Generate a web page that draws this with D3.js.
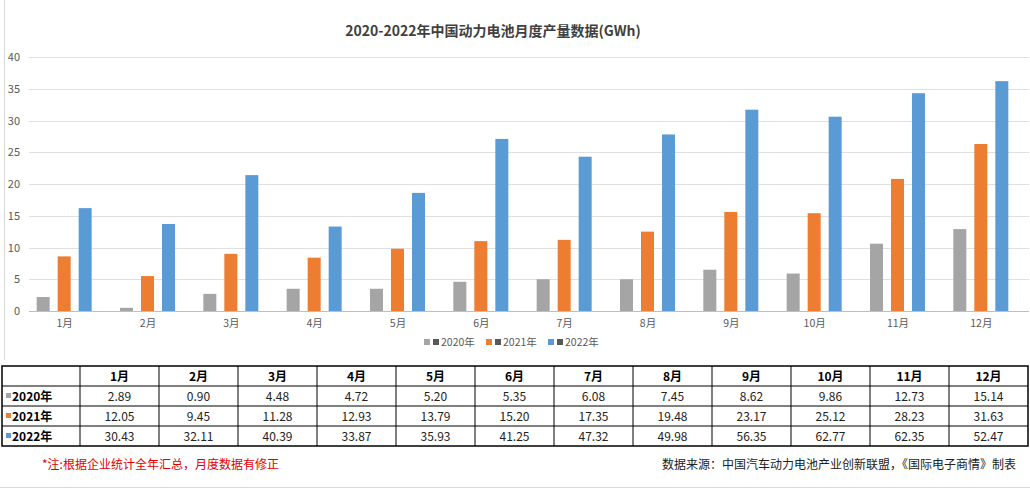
<!DOCTYPE html>
<html><head><meta charset="utf-8">
<script src="https://cdn.jsdelivr.net/npm/d3@7"></script>
<style>body{margin:0;background:#fff;font-family:"Microsoft YaHei","Noto Sans CJK SC",sans-serif}</style>
</head><body><div id="c"></div>
<script>
var months = ["1月","2月","3月","4月","5月","6月","7月","8月","9月","10月","11月","12月"];
var years = ["2020年","2021年","2022年"];
var colors = ["#a5a5a5","#ed7d31","#5b9bd5"];
// bar heights as drawn in the chart
var bars2020 = [2.2,0.5,2.7,3.5,3.5,4.6,5.0,5.0,6.5,5.9,10.6,12.9];
var bars2021 = [8.6,5.5,9.0,8.4,9.8,11.0,11.2,12.5,15.6,15.4,20.8,26.3];
var bars2022 = [16.2,13.7,21.4,13.3,18.6,27.1,24.3,27.8,31.7,30.6,34.3,36.2];
// values printed in the table
var tab2020 = ["2.89","0.90","4.48","4.72","5.20","5.35","6.08","7.45","8.62","9.86","12.73","15.14"];
var tab2021 = ["12.05","9.45","11.28","12.93","13.79","15.20","17.35","19.48","23.17","25.12","28.23","31.63"];
var tab2022 = ["30.43","32.11","40.39","33.87","35.93","41.25","47.32","49.98","56.35","62.77","62.35","52.47"];
var yTicks = [0,5,10,15,20,25,30,35,40];

var W = 1030, H = 489;
var svg = d3.select("#c").append("svg").attr("width", W).attr("height", H);

var x = d3.scaleBand().domain(months).range([29, 1029]);
var y = d3.scaleLinear().domain([0, 40]).range([311, 57]);

svg.append("line").attr("x1", 4.5).attr("x2", 4.5).attr("y1", 0).attr("y2", 360).attr("stroke", "#d9d9d9");

svg.append("text").attr("x", 493).attr("y", 36).attr("text-anchor", "middle")
  .attr("font-size", 14).attr("font-weight", "bold").attr("fill", "#404040")
  .text("2020-2022年中国动力电池月度产量数据(GWh)");

svg.append("g").selectAll("line").data(yTicks).enter().append("line")
  .attr("x1", 29).attr("x2", 1029).attr("y1", d => Math.round(y(d)) + 0.5).attr("y2", d => Math.round(y(d)) + 0.5)
  .attr("stroke", d => d === 0 ? "#bfbfbf" : "#e0e0e0");
svg.append("g").selectAll("text").data(yTicks).enter().append("text")
  .attr("x", 20).attr("y", d => y(d) + 4).attr("text-anchor", "end")
  .attr("font-size", 11).attr("fill", "#595959").text(d => d);

var series = [bars2020, bars2021, bars2022];
series.forEach(function(vals, si) {
  svg.append("g").selectAll("rect").data(vals).enter().append("rect")
    .attr("x", (d, i) => x(months[i]) + x.bandwidth() / 2 - 34 + si * 21)
    .attr("width", 13)
    .attr("y", d => y(d)).attr("height", d => y(0) - y(d))
    .attr("fill", colors[si]);
});
svg.append("g").selectAll("text").data(months).enter().append("text")
  .attr("x", d => x(d) + x.bandwidth() / 2 - 6).attr("y", 327).attr("text-anchor", "middle")
  .attr("font-size", 10.5).attr("fill", "#595959").text(d => d);

// legend
var lg = svg.append("g").attr("transform", "translate(424,346)");
years.forEach(function(yr, i) {
  var g = lg.append("g").attr("transform", "translate(" + (i * 62) + ",0)");
  g.append("rect").attr("x", 0).attr("y", -7).attr("width", 6).attr("height", 6).attr("fill", colors[i]);
  g.append("rect").attr("x", 9).attr("y", -7).attr("width", 6).attr("height", 6).attr("fill", "#595959");
  g.append("text").attr("x", 17).attr("y", 0).attr("font-size", 10.5).attr("fill", "#595959").text(yr);
});

// table
var tx0 = 2, cw = (1028 - 80) / 12, ty0 = 366, rh = 20;
var rows = [tab2020, tab2021, tab2022];
var t = svg.append("g");
t.append("rect").attr("x", tx0).attr("y", ty0).attr("width", 1026).attr("height", rh * 4)
  .attr("fill", "none").attr("stroke", "#000").attr("stroke-width", 1.5);
for (var r = 1; r < 4; r++) t.append("line").attr("x1", tx0).attr("x2", 1028)
  .attr("y1", ty0 + r * rh).attr("y2", ty0 + r * rh).attr("stroke", "#000");
t.selectAll("line.v").data(months).enter().append("line")
  .attr("x1", (d, i) => 80 + i * cw).attr("x2", (d, i) => 80 + i * cw)
  .attr("y1", ty0).attr("y2", ty0 + rh * 4).attr("stroke", "#000");
t.selectAll("text.h").data(months).enter().append("text")
  .attr("x", (d, i) => 80 + (i + 0.5) * cw).attr("y", ty0 + 15).attr("text-anchor", "middle")
  .attr("font-size", 12).attr("font-weight", "bold").text(d => d);
rows.forEach(function(vals, ri) {
  var yy = ty0 + (ri + 1) * rh + 15;
  t.append("rect").attr("x", 6).attr("y", yy - 8).attr("width", 5).attr("height", 5).attr("fill", colors[ri]);
  t.append("text").attr("x", 12).attr("y", yy).attr("font-size", 12).attr("font-weight", "bold").text(years[ri]);
  t.selectAll(null).data(vals).enter().append("text")
    .attr("x", (d, i) => 80 + (i + 0.5) * cw).attr("y", yy).attr("text-anchor", "middle")
    .attr("font-size", 12).attr("fill", "#222").text(d => d);
});

svg.append("text").attr("x", 42).attr("y", 469).attr("font-size", 12).attr("fill", "#e00000")
  .text("*注:根据企业统计全年汇总，月度数据有修正");
svg.append("text").attr("x", 1016).attr("y", 469).attr("text-anchor", "end").attr("font-size", 12).attr("fill", "#222")
  .text("数据来源：中国汽车动力电池产业创新联盟，《国际电子商情》制表");
svg.append("line").attr("x1", 0).attr("x2", W).attr("y1", 487.5).attr("y2", 487.5).attr("stroke", "#d9d9d9");
</script></body></html>
